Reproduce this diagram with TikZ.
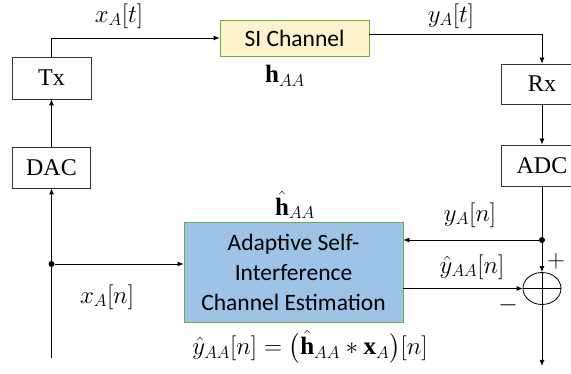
\documentclass[tikz,border=0pt]{standalone}
\usepackage{amsmath}
\usepackage{fontspec}
\setmainfont{Liberation Serif}
\newfontfamily\calibrifont{Carlito}
\usetikzlibrary{arrows.meta,shapes.geometric}
\definecolor{sifill}{HTML}{FFF2CC}
\definecolor{gborder}{HTML}{70AD47}
\definecolor{blfill}{HTML}{9DC3E6}
\tikzset{
  x=1pt, y=-1pt,
  blk/.style={draw=black!80, line width=0.8pt, fill=white, inner sep=0pt,
    font=\fontsize{24}{26}\selectfont},
  colblk/.style={draw=gborder, line width=0.8pt, inner sep=0pt, align=center,
    font=\calibrifont\fontsize{23.5}{30}\selectfont},
  conn/.style={line width=0.8pt, draw=black},
  arr/.style={conn, -{Latex[length=6pt,width=5pt]}},
  lbl/.style={font=\fontsize{25}{28}\selectfont, inner sep=0pt},
  dotnode/.style={circle, fill=black, inner sep=0pt, minimum size=6pt},
}
\begin{document}
\begin{tikzpicture}
\useasboundingbox (0,0) rectangle (571,374);
\clip (0,0) rectangle (571,374);
% blocks
\node[blk, minimum width=79pt, minimum height=42pt] (Tx) at (51.5,78) {Tx};
\node[blk, minimum width=78pt, minimum height=41pt] (DAC) at (51.5,167.5) {DAC};
\node[colblk, fill=sifill, minimum width=149pt, minimum height=36pt] (SI) at (294.5,38) {SI Channel};
\node[blk, minimum width=82pt, minimum height=40pt] (Rx) at (542,84) {Rx};
\node[blk, minimum width=82pt, minimum height=41pt] (ADC) at (542,165.5) {ADC};
\node[colblk, fill=blfill, minimum width=219pt, minimum height=100pt] (AE) at (293.5,272)
  {Adaptive Self-\\Interference\\Channel Estimation};
\node[draw=black, line width=0.8pt, ellipse, minimum width=38pt, minimum height=32pt, inner sep=0pt] (S) at (542,288.5) {};
\draw[conn] (S.north) -- (S.south) (S.west) -- (S.east);
% junctions
\node[dotnode] (J1) at (51.5,264) {};
\node[dotnode] (J2) at (542,240) {};
\coordinate (B1) at (51.5,358);
\coordinate (B2) at (542,366);
\coordinate (R1) at (542,34);
% connectors
\draw[arr] (Tx.north) |- (SI.west);
\draw[conn] ([yshift=4pt]SI.east) -- (R1);
\draw[arr] (R1) -- (Rx.north);
\draw[arr] (DAC.north) -- (Tx.south);
\draw[arr] (B1) -- (DAC.south);
\draw[arr] (J1) -- (J1 -| AE.west);
\draw[arr] (Rx.south) -- (ADC.north);
\draw[conn] (ADC.south) -- (J2);
\draw[arr] (J2) -- (J2 -| AE.east);
\draw[arr] (J2) -- (S.north);
\draw[arr] (AE.east |- S.west) -- (S.west);
\draw[arr] (S.south) -- (B2);
% labels
\node[lbl] (lxt) at (119,16) {$x_A[t]$};
\node[lbl] (lyt) at (451,16) {$y_A[t]$};
\node[lbl] (lh) at (285,76) {$\mathbf{h}_{AA}$};
\node[lbl] (lhh) at (295,205) {$\hat{\mathbf{h}}_{AA}$};
\node[lbl] (lxn) at (107,297) {$x_A[n]$};
\node[lbl] (lyn) at (470,215) {$y_A[n]$};
\node[lbl] (lyh) at (472,267) {$\hat{y}_{AA}[n]$};
\node[lbl] (lplus) at (556,261) {$+$};
\node[lbl] (lminus) at (508,305) {$-$};
\node[lbl] (lform) at (310,347) {$\hat{y}_{AA}[n] = \big(\hat{\mathbf{h}}_{AA} * \mathbf{x}_A\big)[n]$};
\end{tikzpicture}
\end{document}
